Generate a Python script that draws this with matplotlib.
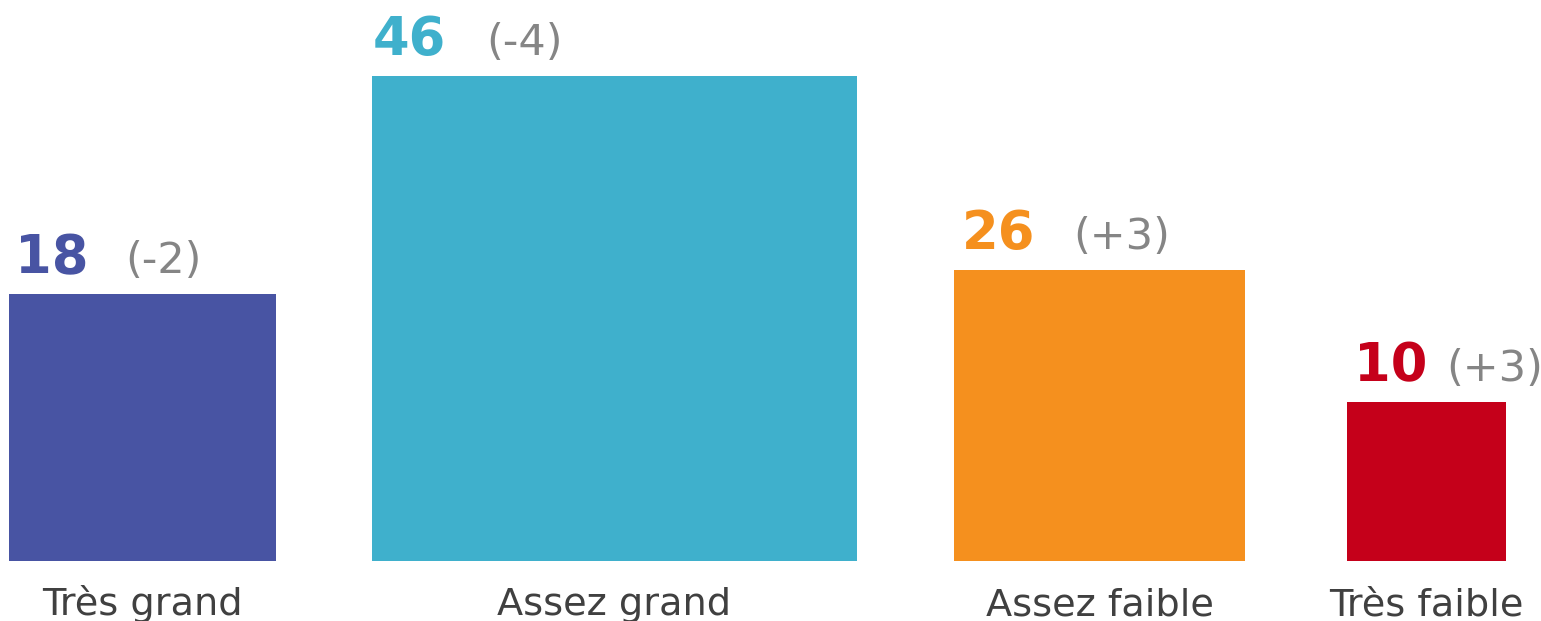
import matplotlib
matplotlib.use("AGG")
import matplotlib.pyplot as plt

categories = ['Très grand', 'Assez grand', 'Assez faible', 'Très faible']
values = [18, 46, 26, 10]
changes = ['(-2)', '(-4)', '(+3)', '(+3)']
# side of each square
sides = [267, 485, 291, 159]

colors = ['#4854A3', '#3FB0CC', '#F5901E', '#C5001A']
gaps = [96, 97, 102]
num_off = [6, 1, 8, 7]
delta_off = [110, 113, 111, 92]

fig = plt.figure(figsize=(15.41, 6.21), dpi=100)
ax = fig.add_axes([0, 0, 1, 1])

lefts = [0]
for s, g in zip(sides[:-1], gaps):
	lefts.append(lefts[-1] + s + g)

ax.bar(lefts, sides, width=sides, align='edge', color=colors, linewidth=0)

for (lft, s, v, ch, c, cat, n, d) in zip(lefts, sides, values, changes, colors, categories, num_off, delta_off):
	ax.text(lft + n, s + 21, str(v), color=c, fontsize=38, fontweight='bold',
		ha='left', va='baseline', family='DejaVu Sans')
	ax.text(lft + n + d, s + 21, ch, color='#858585', fontsize=31,
		ha='left', va='baseline', family='DejaVu Sans')
	ax.text(lft + s / 2, -54, cat, color='#404040', fontsize=27.5,
		ha='center', va='baseline', family='DejaVu Sans')

ax.set_xlim(-9, 1532)
ax.set_ylim(-60, 561)
ax.axis('off')
plt.savefig("out.png", format="png", dpi=100)
